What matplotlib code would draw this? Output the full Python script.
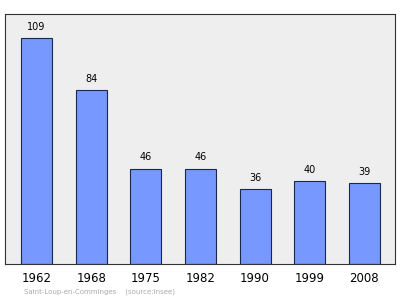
import matplotlib
matplotlib.use('Agg')
import matplotlib.pyplot as plt

# population data
years = ['1962', '1968', '1975', '1982', '1990', '1999', '2008']
population = [109, 84, 46, 46, 36, 40, 39]

fig = plt.figure(figsize=(4, 2.99), dpi=100)
ax = fig.add_axes([0.0125, 0.117, 0.975, 0.836])
ax.set_facecolor('#eeeeee')

x = range(len(years))
bars = ax.bar(x, population, width=0.57, color='#7799ff', edgecolor='#1a2850', linewidth=0.8)
for xi, v in zip(x, population):
    ax.text(xi, v + 3, str(v), ha='center', va='bottom', fontsize=7)

ax.set_xlim(-0.577, 6.56)
ax.set_ylim(0, 120.5)
ax.set_xticks(list(x))
ax.set_xticklabels(years, fontsize=8.5)
ax.tick_params(axis='x', length=0, pad=6)
ax.set_yticks([])
for s in ax.spines.values():
    s.set_color('#333333')
    s.set_linewidth(0.8)

fig.text(0.06, 0.02, 'Saint-Loup-en-Comminges    (source:Insee)', fontsize=5, color='#aaaaaa')

plt.savefig('out.png', dpi=100)
